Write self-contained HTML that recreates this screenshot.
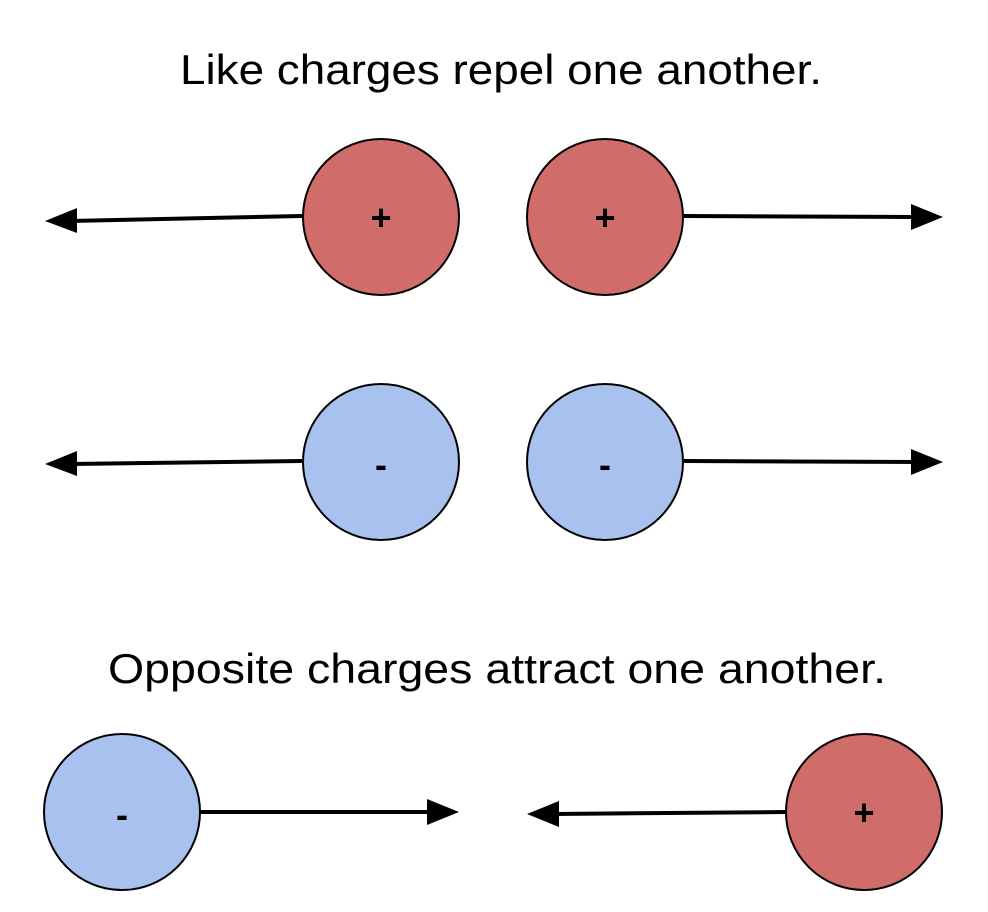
<!DOCTYPE html>
<html><head><style>html,body{margin:0;padding:0;background:#fff}</style></head>
<body>
<svg width="988" height="912" xmlns="http://www.w3.org/2000/svg" style="display:block">
<g font-family="Liberation Sans, sans-serif" fill="#000">
<text x="180" y="84" font-size="42" textLength="642" lengthAdjust="spacingAndGlyphs">Like charges repel one another.</text>
<text x="108" y="683" font-size="42" textLength="778" lengthAdjust="spacingAndGlyphs">Opposite charges attract one another.</text>
</g>
<g stroke="#000" stroke-width="4" fill="none">
<line x1="302" y1="216" x2="70" y2="221"/>
<line x1="684" y1="216" x2="918" y2="217"/>
<line x1="302" y1="461" x2="70" y2="464"/>
<line x1="684" y1="461" x2="918" y2="462"/>
<line x1="200" y1="812" x2="434" y2="812"/>
<line x1="786" y1="812" x2="552" y2="814"/>
</g>
<g fill="#000">
<polygon points="45,221 77,208 77,233"/>
<polygon points="943,217 911,204 911,230"/>
<polygon points="45,464 77,451 77,476"/>
<polygon points="943,462 911,449 911,475"/>
<polygon points="459,812 427,799 427,825"/>
<polygon points="527,814 559,801 559,827"/>
</g>
<g stroke="#000" stroke-width="2">
<circle cx="381" cy="217" r="78" fill="#d06c6a"/>
<circle cx="605" cy="217" r="78" fill="#d06c6a"/>
<circle cx="381" cy="462" r="78" fill="#a9c1ef"/>
<circle cx="605" cy="462" r="78" fill="#a9c1ef"/>
<circle cx="122" cy="812" r="78" fill="#a9c1ef"/>
<circle cx="864" cy="812" r="78" fill="#d06c6a"/>
</g>
<g font-family="Liberation Sans, sans-serif" font-size="36" font-weight="bold" text-anchor="middle" fill="#000">
<text x="381" y="230">+</text>
<text x="605" y="230">+</text>
<text x="381" y="477">-</text>
<text x="605" y="477">-</text>
<text x="122" y="827">-</text>
<text x="864" y="825">+</text>
</g>
</svg>
</body></html>
